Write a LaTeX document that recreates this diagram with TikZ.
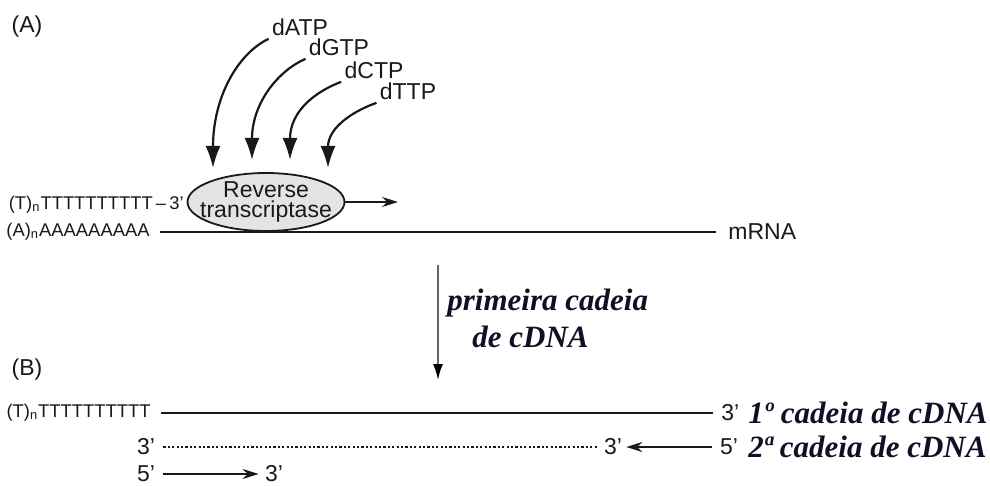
\documentclass[tikz,border=0pt]{standalone}
\usepackage{fontspec}
\setmainfont{Liberation Sans}
\newfontfamily\cadeiafont{Liberation Serif}
\usetikzlibrary{arrows.meta,shapes.geometric}
\definecolor{RTInk}{RGB}{25,25,25}
\definecolor{RTFill}{RGB}{228,228,228}
\definecolor{RTArrow}{RGB}{100,100,100}
\definecolor{RTNavy}{RGB}{15,15,40}

\begin{document}
\begin{tikzpicture}[x=0.5pt,y=-0.5pt,
  lbl/.style={inner sep=1pt,text=RTInk,font=\fontsize{11.5}{11.5}\selectfont},
  seq/.style={inner sep=1pt,text=RTInk,font=\fontsize{9.2}{9.2}\selectfont},
  ntp/.style={inner sep=1.5pt,text=RTInk,font=\fontsize{11.5}{11.5}\selectfont},
  cad/.style={inner sep=0pt,text=RTNavy,font=\cadeiafont\bfseries\itshape\fontsize{15.5}{18.5}\selectfont},
  feed/.style={-{Latex[length=11pt,width=7.5pt]},line width=1.1pt,RTInk},
  strand/.style={line width=1.4pt,RTInk},
  growarr/.style={-{Stealth[length=8pt,width=5pt]},line width=0.9pt,RTInk}]
\useasboundingbox (0,0) rectangle (990,486);

% (A) reverse transcription on the mRNA
\node[lbl] (panelA) at (27,27) {(A)};
\node[ntp] (atp) at (300,27) {dATP};
\node[ntp] (gtp) at (339,47) {dGTP};
\node[ntp] (ctp) at (374,70) {dCTP};
\node[ntp] (ttp) at (408,91) {dTTP};

\node[ellipse,draw=RTInk,fill=RTFill,line width=0.9pt,minimum width=78.5pt,minimum height=29pt,inner sep=0pt] (rt) at (266,202) {};
\node[align=center,inner sep=0pt,text=RTInk,font=\fontsize{11.5}{10}\selectfont] (rtlabel) at (rt) {Reverse\\transcriptase};

\coordinate (ta) at (213,168);
\coordinate (tg) at (252,160);
\coordinate (tc) at (290,160);
\coordinate (tt) at (328,168);
\draw[feed] (atp.south west) .. controls +(-30,14) and +(0,-72) .. (ta);
\draw[feed] (gtp.south west) .. controls +(-26,11) and +(0,-58) .. (tg);
\draw[feed] (ctp.south west) .. controls +(-24,9) and +(0,-50) .. (tc);
\draw[feed] (ttp.south west) .. controls +(-20,7) and +(0,-42) .. (tt);

\coordinate (rtend) at (398,202);
\draw[growarr] (rt.east) -- (rtend);

\node[seq,anchor=east] (tn) at (186,205) {(T)\textsubscript{n}TTTTTTTTTT\,–\,3'};
\node[seq,anchor=east] (an) at (152,232) {(A)\textsubscript{n}AAAAAAAAA};
\node[lbl,anchor=west] (mrna) at (726,232) {mRNA};
\draw[strand] ([xshift=4pt]an.east) -- ([xshift=-5pt]mrna.west);

% first strand synthesis
\coordinate (vtop) at (438,265);
\coordinate (vbot) at (438,380);
\draw[-{Latex[length=8pt,width=5pt,color=black]},RTArrow,line width=0.9pt] (vtop) -- (vbot);
\node[cad,anchor=north west,align=left] (pcd) at (447,289) {primeira cadeia\\\hspace*{12.5pt}de cDNA};

% (B) the two cDNA strands
\node[lbl] (panelB) at (27,370) {(B)};
\node[seq,anchor=east] (tnb) at (153,413) {(T)\textsubscript{n}TTTTTTTTTT};
\node[lbl,anchor=west] (b3a) at (719,413) {3'};
\draw[strand] ([xshift=4pt]tnb.east) -- ([xshift=-3pt]b3a.west);
\node[cad,anchor=west] (first) at (748,413) {1º cadeia de cDNA};

\node[lbl] (d3a) at (146,447) {3'};
\node[lbl] (d3b) at (613,447) {3'};
\node[lbl] (d5) at (729,447) {5'};
\node[cad,anchor=west] (second) at (748,447) {2ª cadeia de cDNA};
\draw[RTInk,line width=1.1pt,dash pattern=on 1.1pt off 1.1pt,shorten <=3pt,shorten >=2pt] (d3a.east) -- (d3b.west);
\draw[growarr,shorten <=3pt,shorten >=1pt] (d5.west) -- (d3b.east);

\node[lbl] (f5) at (146,474) {5'};
\node[lbl] (f3) at (274,474) {3'};
\draw[growarr,shorten <=3pt,shorten >=2pt] (f5.east) -- (f3.west);
\end{tikzpicture}
\end{document}
